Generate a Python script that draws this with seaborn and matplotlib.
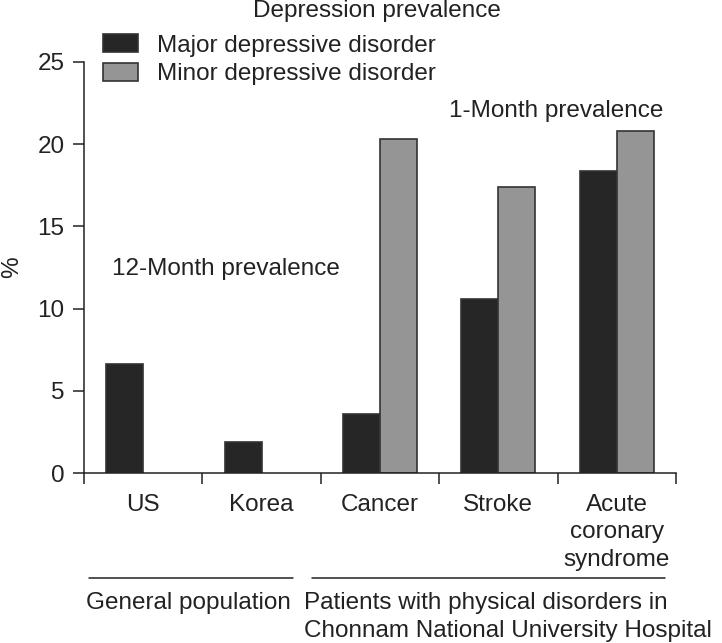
import numpy as np
import pandas as pd
import matplotlib
matplotlib.use('Agg')
import matplotlib.pyplot as plt
from matplotlib.lines import Line2D
import seaborn as sns

# Data
categories = ['US', 'Korea', 'Cancer', 'Stroke', 'Acute\ncoronary\nsyndrome']
major_pct = [6.6, 1.9, 3.6, 10.6, 18.4]
minor_pct = [np.nan, np.nan, 20.3, 17.4, 20.8]
series = ['Major depressive disorder', 'Minor depressive disorder']
groups = ['General population', 'Patients with physical disorders in\nChonnam National University Hospital']

df = pd.DataFrame({
    'category': categories * 2,
    'pct': major_pct + minor_pct,
    'disorder': [series[0]] * 5 + [series[1]] * 5,
})

sns.set_style('ticks')
plt.rcParams['font.family'] = ['Liberation Sans', 'DejaVu Sans']
ink = '#222222'
fs = 17.5

fig = plt.figure(figsize=(7.22, 6.43), dpi=100)
ax = fig.add_axes([84 / 722, 1 - 473 / 643, 592 / 722, 411 / 643])

sns.barplot(data=df, x='category', y='pct', hue='disorder', order=categories,
            hue_order=series, palette=['#262626', '#959595'], saturation=1,
            width=0.625, errorbar=None, edgecolor='#333333', linewidth=1.2, ax=ax)

ax.set_xlim(-0.5, 4.5)
ax.set_ylim(0, 25)
ax.set_yticks(range(0, 26, 5))
sns.despine(ax=ax)
for s in ['left', 'bottom']:
    ax.spines[s].set_linewidth(1.1)
    ax.spines[s].set_color(ink)

# boundaries carry the tick marks, categories the labels
ax.set_xticks(np.arange(-0.5, 5, 1), [''] * 6)
ax.set_xticks(np.arange(5), categories, minor=True)
ax.tick_params(axis='x', which='major', length=8, width=1.1, color=ink)
ax.tick_params(axis='x', which='minor', length=0, pad=15, labelsize=fs, labelcolor=ink)
ax.tick_params(axis='y', length=8, width=1.1, color=ink, pad=6, labelsize=fs, labelcolor=ink)
for lab in ax.get_xticklabels(minor=True):
    lab.set_linespacing(1.32)

ax.set_xlabel('')
ax.set_ylabel('%', fontsize=fs, color=ink, labelpad=10)

# legend above the plot
old = ax.get_legend()
handles = old.legend_handles
ax.legend(handles, series, loc='upper left', bbox_to_anchor=(0.1427, 0.947),
          bbox_transform=fig.transFigure, frameon=False, borderpad=0, borderaxespad=0,
          handlelength=1.43, handleheight=0.78, handletextpad=0.78, labelspacing=0.24,
          fontsize=fs, labelcolor=ink)

fig.text(253 / 722, 1 - 17 / 643, 'Depression prevalence', fontsize=fs, color=ink, va='baseline')
fig.text(112 / 722, 1 - 275 / 643, '12-Month prevalence', fontsize=fs, color=ink, va='baseline')
fig.text(449 / 722, 1 - 117 / 643, '1-Month prevalence', fontsize=fs, color=ink, va='baseline')

# group brackets under the categories
y_line = 1 - 578 / 643
fig.add_artist(Line2D([89 / 722, 293 / 722], [y_line, y_line], color=ink, lw=1.1))
fig.add_artist(Line2D([312 / 722, 665 / 722], [y_line, y_line], color=ink, lw=1.1))
fig.text(86 / 722, 1 - 592 / 643, groups[0], fontsize=fs, color=ink, va='top')
fig.text(304 / 722, 1 - 592 / 643, groups[1], fontsize=fs, color=ink, va='top', linespacing=1.36)

fig.savefig('out.png', dpi=100)
